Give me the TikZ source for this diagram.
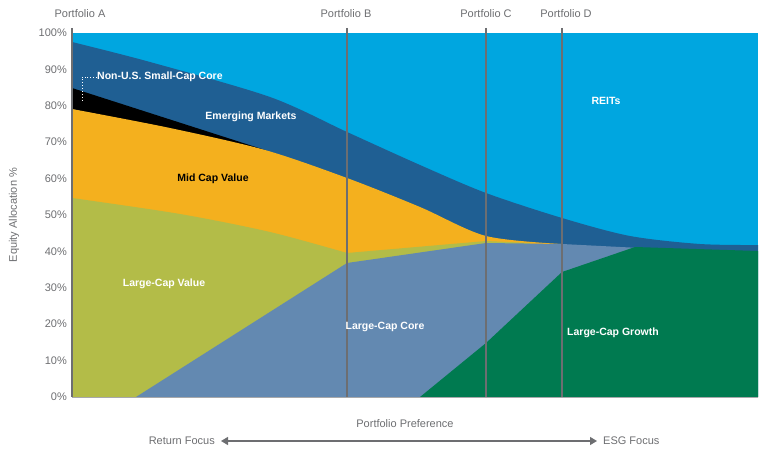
\documentclass[tikz,border=0pt]{standalone}
\usepackage{fontspec}
\setmainfont{Liberation Sans}
\usetikzlibrary{arrows.meta}
\definecolor{reit}{HTML}{00A6E0}
\definecolor{emk}{HTML}{1F5F93}
\definecolor{midc}{HTML}{F4B01E}
\definecolor{lcv}{HTML}{B3BC48}
\definecolor{lcc}{HTML}{6389B1}
\definecolor{lcg}{HTML}{007A50}
\definecolor{gtxt}{HTML}{6D6E71}
\tikzset{
  lbl/.style={text=white,font=\bfseries\fontsize{10.5}{12}\selectfont,inner sep=0pt},
  dlbl/.style={text=black,font=\bfseries\fontsize{10.5}{12}\selectfont,inner sep=0pt},
  axl/.style={text=gtxt,font=\fontsize{11}{13}\selectfont,inner sep=0pt},
  pline/.style={draw=gtxt,line width=1.3pt}
}
\begin{document}
\begin{tikzpicture}[x=1pt,y=-1pt]
\useasboundingbox (0,0) rectangle (768,460);
% REITs
\fill[reit] (72,33) rectangle (758,397);
% Emerging markets
\fill[emk] plot[smooth,tension=0.5] coordinates {(72,42) (150,62) (270,97) (347,132) (420,165) (486,193) (562,218) (630,236) (700,244) (758,245)} -- (758,397) -- (72,397) -- cycle;
% Non-US small cap
\fill[black] (72,88) -- (265,150) -- (72,109) -- cycle;
% Mid cap value
\fill[midc] plot[smooth,tension=0.5] coordinates {(72,109) (170,128) (265,150) (347,178) (420,207) (486,236) (562,244)} -- (562,397) -- (72,397) -- cycle;
% Large-cap value
\fill[lcv] plot[smooth,tension=0.5] coordinates {(72,198) (180,214) (270,232) (347,253)} -- (486,241) -- (530,243) -- (530,397) -- (72,397) -- cycle;
% Large-cap core
\fill[lcc] (136,397) -- (347,263) -- (486,243) -- (562,244) -- (640,248) -- (640,397) -- cycle;
% Large-cap growth
\fill[lcg] (420,397) -- (486,343) -- (562,272) -- (635,247) -- (758,251) -- (758,397) -- cycle;
% axes
\draw[gtxt!60,line width=0.8pt] (72,397) -- (758,397);
% portfolio lines
\coordinate (at) at (72,28); \coordinate (ab) at (72,397);
\coordinate (bt) at (347,28); \coordinate (bb) at (347,397);
\coordinate (ct) at (486,28); \coordinate (cb) at (486,397);
\coordinate (dt) at (562,28); \coordinate (db) at (562,397);
\draw[pline] (at) -- (ab);
\draw[pline] (bt) -- (bb);
\draw[pline] (ct) -- (cb);
\draw[pline] (dt) -- (db);
\node[axl] (pa) at (80,14) {Portfolio A};
\node[axl] (pb) at (346,14) {Portfolio B};
\node[axl] (pc) at (486,14) {Portfolio C};
\node[axl] (pd) at (566,14) {Portfolio D};
% tick labels
\foreach \v in {0,10,...,100}{
  \node[axl,anchor=east] (t\v) at (67,{397-3.64*\v}) {\v\%};
}
\node[axl,rotate=90] (ylab) at (14,215) {Equity Allocation \%};
% region labels
\node[lbl,anchor=west] (nus) at (97,77) {Non-U.S. Small-Cap Core};
\coordinate (n1) at (82,77); \coordinate (n2) at (82,100);
\draw[white,dotted,line width=0.9pt] (nus.west) -- (n1) -- (n2);
\node[lbl] (em) at (251,117) {Emerging Markets};
\node[dlbl] (mc) at (213,179) {Mid Cap Value};
\node[lbl] (re) at (606,101) {REITs};
\node[lbl] (lv) at (164,284) {Large-Cap Value};
\node[lbl] (lc) at (385,327) {Large-Cap Core};
\node[lbl] (lg) at (613,333) {Large-Cap Growth};
% bottom
\node[axl] (pp) at (405,424) {Portfolio Preference};
\node[axl,anchor=east] (rf) at (215,441) {Return Focus};
\node[axl,anchor=west] (ef) at (603,441) {ESG Focus};
\draw[gtxt,line width=1.3pt,{Triangle[length=7pt,width=8pt]}-{Triangle[length=7pt,width=8pt]}] (rf.east)++(6,0) -- ([xshift=-6pt]ef.west);
\end{tikzpicture}
\end{document}
